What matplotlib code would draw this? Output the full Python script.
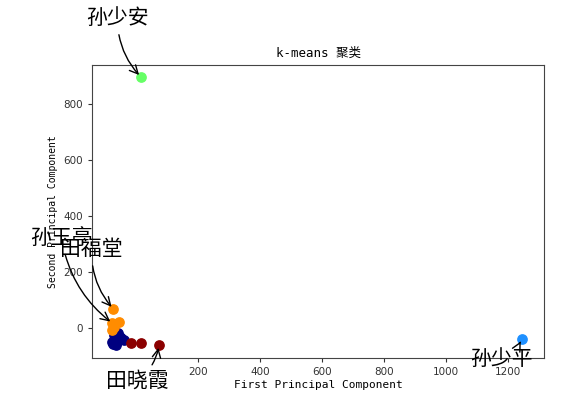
import matplotlib
matplotlib.use("Agg")
import matplotlib.pyplot as plt

plt.rcParams['font.family'] = ['DejaVu Sans', 'Noto Sans CJK SC']

# data (first / second principal component) per cluster
navy_x = [-71, -64, -52, -39, -77, -58, -66, -48, -74, -60]
navy_y = [-26, -62, -33, -44, -51, -19, -40, -38, -58, -50]
orange_x = [-73, -76, -54, -77, -70]
orange_y = [67, 16, 19, -8, 2]
red_x = [-16, 16, 74]
red_y = [-55, -55, -62]
green_x = [16]
green_y = [895]
blue_x = [1245]
blue_y = [-40]

labels = ['孙少安', '孙玉亭', '田福堂', '田晓霞', '孙少平']
label_pts = [(16, 895), (-76, 16), (-73, 67), (74, -62), (1245, -40)]
label_txt = [(-60, 1105), (-240, 320), (-143, 280), (5, -190), (1180, -110)]
rads = [0.2, 0.2, 0.2, 0.2, 0.2]

fig = plt.figure(figsize=(5.78, 4.04), dpi=100)
ax = fig.add_axes([92/578, 1-358/404, 452/578, 293/404])

ax.scatter(navy_x, navy_y, color='navy', s=45, zorder=3)
ax.scatter(orange_x, orange_y, color='darkorange', s=45, zorder=3)
ax.scatter(red_x, red_y, color='darkred', s=45, zorder=3)
ax.scatter(green_x, green_y, color='#66ff66', s=45, zorder=3)
ax.scatter(blue_x, blue_y, color='#1e90ff', s=45, zorder=3)

for lab, p, t, r in zip(labels, label_pts, label_txt, rads):
    ax.annotate(lab, xy=p, xytext=t, fontsize=15, ha='center', va='center',
                family=['Noto Sans CJK SC', 'DejaVu Sans'],
                arrowprops=dict(arrowstyle='->', color='black', lw=1,
                                connectionstyle='arc3,rad=%s' % r),
                annotation_clip=False, zorder=4)

ax.set_xlim(-142, 1316)
ax.set_ylim(-108, 938)
ax.set_xticks([200, 400, 600, 800, 1000, 1200])
ax.set_yticks([0, 200, 400, 600, 800])
ax.tick_params(labelsize=7.5, colors='#333333', length=3)
for s in ax.spines.values():
    s.set_color('#444444')

mono = ['DejaVu Sans Mono', 'Noto Sans CJK SC']
ax.set_title('k-means 聚类', family=mono, fontsize=9, pad=6)
ax.set_xlabel('First Principal Component', family=mono, fontsize=8, labelpad=2)
ax.set_ylabel('Second Principal Component', family=mono, fontsize=7, labelpad=4)

fig.savefig('out.png', dpi=100)
